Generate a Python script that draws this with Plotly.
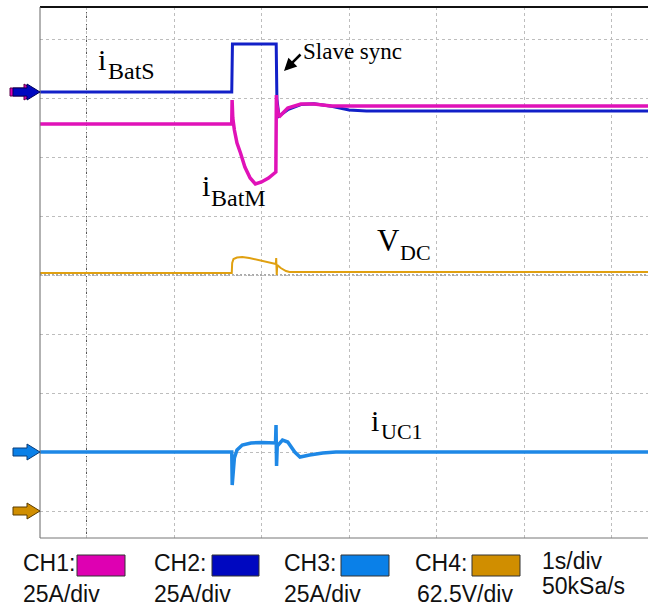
import plotly.graph_objects as go

# ---------------- screen geometry (oscilloscope graticule) ----------------
W, H = 648, 607
PLOT_L, PLOT_R, PLOT_T, PLOT_B = 40, 648, 7, 538
DIV_X = 87.5          # px per time division
DIV_Y = 59.0          # px per vertical division
X0_PX = 86.5          # px of the t = 0 graticule line
Y0_PX = 511.0         # px of the lowest graticule line (div 0)

TIME_PER_DIV = 1.0    # s/div

# ---------------- channel settings ----------------
CH_SCALE = {"CH1": 25.0, "CH2": 25.0, "CH3": 25.0, "CH4": 62.5}      # units/div
CH_GROUND_DIV = {"CH12": (Y0_PX - 92) / DIV_Y, "CH3": 1.0, "CH4": 0.0}

# ---------------- waveforms ----------------
# CH2: slave battery current i_BatS [A]
t_ch2 = [-0.53, 1.660, 1.668, 2.168, 2.176, 2.20, 2.30, 2.45, 2.60, 2.80, 3.00, 3.20, 6.42]
i_bats = [0.0, 0.0, 20.3, 20.3, -3.0, -10.2, -7.5, -5.3, -5.0, -6.0, -7.6, -8.1, -8.1]

# CH1: master battery current i_BatM [A]
t_ch1 = [-0.53, 1.660, 1.664, 1.672, 1.69, 1.72, 1.76, 1.81, 1.87, 1.93, 2.00, 2.08,
         2.164, 2.170, 2.176, 2.20, 2.30, 2.45, 2.60, 2.80, 6.42]
i_batm = [-13.56, -13.56, -3.39, -11.02, -16.1, -21.6, -25.85, -31.78, -36.44, -38.98,
          -38.14, -36.44, -33.90, -1.27, -5.51, -10.59, -6.78, -5.08, -5.08, -5.93, -5.93]

# CH4: DC bus voltage V_DC [V]
t_ch4 = [-0.53, 1.660, 1.665, 1.68, 1.72, 1.78, 1.86, 1.96, 2.06, 2.164, 2.168, 2.174,
         2.18, 2.22, 2.28, 2.32, 6.42]
v_dc = [252.1, 252.1, 262.7, 267.0, 268.5, 269.1, 268.0, 265.9, 263.8, 261.7, 268.0,
        250.0, 260.6, 257.4, 254.2, 253.2, 253.2]

# CH3: ultracapacitor current i_UC1 [A]
t_ch3 = [-0.53, 1.660, 1.665, 1.675, 1.69, 1.72, 1.78, 1.88, 2.00, 2.16, 2.166, 2.172,
         2.18, 2.24, 2.30, 2.38, 2.44, 2.55, 2.70, 2.85, 6.42]
i_uc1 = [0.0, 0.0, -13.98, -7.63, -2.54, 0.85, 2.97, 3.81, 4.03, 3.81, 11.44, -5.93,
         2.54, 5.08, 4.24, 0.0, -2.12, -1.27, -0.42, 0.0, 0.0]

# ---------------- legend / labels ----------------
legend_names = ["CH1:", "CH2:", "CH3:", "CH4:"]
legend_scales = ["25A/div", "25A/div", "25A/div", "62.5V/div"]
timebase = ["1s/div", "50kSa/s"]

COL = {"CH1": "#E012B8", "CH2": "#1220C8", "CH3": "#1E88E6", "CH4": "#E0A010"}
BOX = {"CH1": "#DE00B2", "CH2": "#0008C0", "CH3": "#0A80E8", "CH4": "#D08E00"}
EDGE = {"CH1": "#5A0048", "CH2": "#00005A", "CH3": "#0A3C78", "CH4": "#5A3C00"}

# ---------------- axis ranges ----------------
x_range = [(PLOT_L - X0_PX) / DIV_X * TIME_PER_DIV, (PLOT_R - X0_PX) / DIV_X * TIME_PER_DIV]
div_range = [(Y0_PX - PLOT_B) / DIV_Y, (Y0_PX - PLOT_T) / DIV_Y]


def ch_range(ground_div, scale):
    return [(div_range[0] - ground_div) * scale, (div_range[1] - ground_div) * scale]


def px_x(p):
    return (p - PLOT_L) / (PLOT_R - PLOT_L)


def px_y(p):
    return (PLOT_B - p) / (PLOT_B - PLOT_T)


fig = go.Figure()
fig.add_trace(go.Scatter(x=t_ch4, y=v_dc, yaxis="y4", mode="lines",
                         line=dict(color=COL["CH4"], width=2), hoverinfo="skip"))
fig.add_trace(go.Scatter(x=t_ch3, y=i_uc1, yaxis="y3", mode="lines",
                         line=dict(color=COL["CH3"], width=3.5), hoverinfo="skip"))
fig.add_trace(go.Scatter(x=t_ch2, y=i_bats, yaxis="y2", mode="lines",
                         line=dict(color=COL["CH2"], width=3), hoverinfo="skip"))
fig.add_trace(go.Scatter(x=t_ch1, y=i_batm, yaxis="y2", mode="lines",
                         line=dict(color=COL["CH1"], width=3.5), hoverinfo="skip"))

grid = dict(showgrid=True, gridcolor="#BDBDBD", griddash="3px,3px", gridwidth=1,
            showticklabels=False, ticks="", zeroline=False, showline=False)

fig.update_layout(
    width=W, height=H,
    margin=dict(l=PLOT_L, r=W - PLOT_R, t=PLOT_T, b=H - PLOT_B, pad=0),
    paper_bgcolor="white", plot_bgcolor="white", showlegend=False,
    xaxis=dict(range=x_range, tickvals=list(range(0, 7)), **grid),
    yaxis=dict(range=div_range, tickvals=list(range(0, 9)), **grid),
    yaxis2=dict(range=ch_range(CH_GROUND_DIV["CH12"], CH_SCALE["CH1"]), overlaying="y", visible=False),
    yaxis3=dict(range=ch_range(CH_GROUND_DIV["CH3"], CH_SCALE["CH3"]), overlaying="y", visible=False),
    yaxis4=dict(range=ch_range(CH_GROUND_DIV["CH4"], CH_SCALE["CH4"]), overlaying="y", visible=False),
)

shapes = []
# darker centre graticule lines
shapes.append(dict(type="line", xref="x", yref="paper", x0=0, x1=0, y0=0, y1=1,
                   line=dict(color="#555555", width=1, dash="2px,2px"), layer="between"))
shapes.append(dict(type="line", xref="paper", yref="y", x0=0, x1=1, y0=4, y1=4,
                   line=dict(color="#555555", width=1, dash="2px,2px"), layer="between"))
# frame
shapes.append(dict(type="line", xref="paper", yref="paper", x0=0, x1=1, y0=1, y1=1,
                   line=dict(color="#111111", width=2), layer="above"))
shapes.append(dict(type="line", xref="paper", yref="paper", x0=0, x1=0, y0=0, y1=1,
                   line=dict(color="#666666", width=1), layer="above"))
shapes.append(dict(type="line", xref="paper", yref="paper", x0=0, x1=1, y0=0, y1=0,
                   line=dict(color="#777777", width=1), layer="above"))

# ground markers (block arrows at the left edge)
ARROW = "M-27,-4 L-13,-4 L-13,-8 L0,0 L-13,8 L-13,4 L-27,4 Z"
ARROW_SHIFT = "M-30,-4 L-16,-4 L-16,-8 L-3,0 L-16,8 L-16,4 L-30,4 Z"
for ch, yref, path in [("CH1", "y2", ARROW_SHIFT), ("CH2", "y2", ARROW),
                       ("CH3", "y3", ARROW), ("CH4", "y4", ARROW)]:
    shapes.append(dict(type="path", path=path, xref="paper", yref=yref,
                       xsizemode="pixel", ysizemode="pixel", xanchor=0, yanchor=0,
                       fillcolor=BOX[ch], line=dict(color=EDGE[ch], width=1), layer="above"))

# legend colour boxes
box_x = [(77, 125), (212, 259), (341, 389), (472, 520)]
for (x0, x1), ch in zip(box_x, ["CH1", "CH2", "CH3", "CH4"]):
    shapes.append(dict(type="rect", xref="paper", yref="paper",
                       x0=px_x(x0), x1=px_x(x1), y0=px_y(576), y1=px_y(555),
                       fillcolor=BOX[ch], line=dict(color="#333333", width=1)))
fig.update_layout(shapes=shapes)

SERIF = "Liberation Serif, Times New Roman, serif"
SANS = "Liberation Sans, Arial, sans-serif"


def label(text, x_left, baseline, size, family, color="black"):
    descent = 0.216 if family == SERIF else 0.212
    return dict(text=text, xref="paper", yref="paper", x=px_x(x_left),
                y=px_y(baseline + descent * size), xanchor="left", yanchor="bottom",
                showarrow=False, borderpad=0, font=dict(family=family, size=size, color=color))


anns = [
    label("i", 97, 71, 30, SERIF), label("BatS", 107, 80, 24, SERIF),
    label("i", 201, 197, 30, SERIF), label("BatM", 210, 207, 24, SERIF),
    label("V", 376, 252, 31, SERIF), label("DC", 399, 261, 22, SERIF),
    label("i", 370, 432, 30, SERIF), label("UC1", 380, 440, 22, SERIF),
    label("Slave sync", 302, 60, 23, SERIF),
]
# pointer for the slave sync event
anns.append(dict(text="", xref="paper", yref="paper", x=px_x(284), y=px_y(71),
                 ax=18, ay=-18, showarrow=True, arrowhead=2, arrowsize=1,
                 arrowwidth=2.5, arrowcolor="black", standoff=0))

name_x = [22, 153, 283, 414]
scale_x = [22, 153, 283, 416]
for nm, sc, nx, sx in zip(legend_names, legend_scales, name_x, scale_x):
    anns.append(label(nm, nx, 572, 23, SANS, "#111111"))
    anns.append(label(sc, sx, 603, 23, SANS, "#111111"))
anns.append(label(timebase[0], 541, 570, 23, SANS, "#111111"))
anns.append(label(timebase[1], 541, 595, 23, SANS, "#111111"))
fig.update_layout(annotations=anns)

fig.write_html("out.html")
